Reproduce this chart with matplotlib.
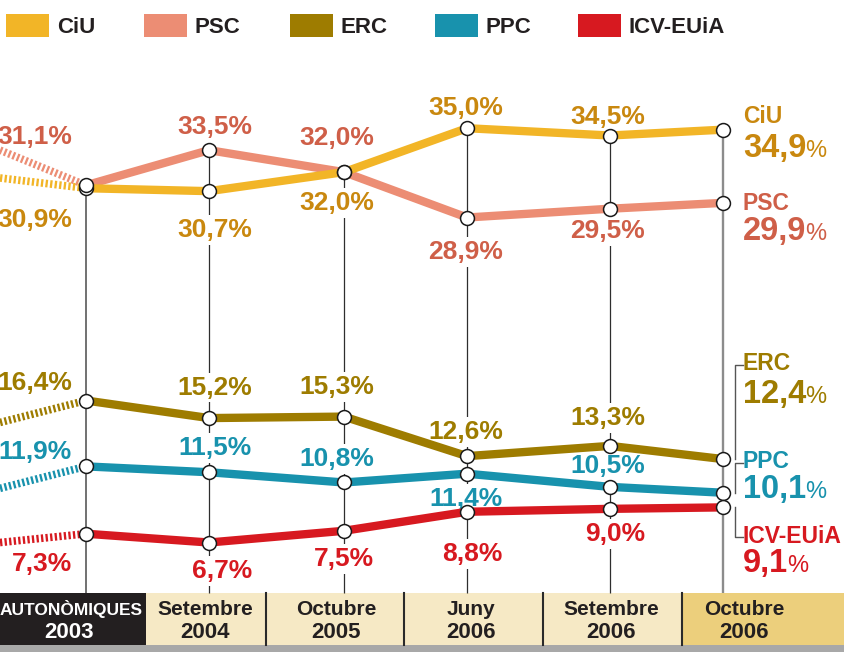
import matplotlib
matplotlib.use('Agg')
import matplotlib.pyplot as plt
from matplotlib.patches import Rectangle

# ---------------- data ----------------
periods_line1 = ['AUTONÒMIQUES', 'Setembre', 'Octubre', 'Juny', 'Setembre', 'Octubre']
periods_line2 = ['2003', '2004', '2005', '2006', '2006', '2006']
parties = ['CiU', 'PSC', 'ERC', 'PPC', 'ICV-EUiA']
ciu = [30.9, 30.7, 32.0, 35.0, 34.5, 34.9]
psc = [31.1, 33.5, 32.0, 28.9, 29.5, 29.9]
erc = [16.4, 15.2, 15.3, 12.6, 13.3, 12.4]
ppc = [11.9, 11.5, 10.8, 11.4, 10.5, 10.1]
icv = [7.3, 6.7, 7.5, 8.8, 9.0, 9.1]
# dotted trend stubs: value where they enter at the left border
stub_start = [31.6, 33.5, 14.9, 10.4, 6.7]

series = [ciu, psc, erc, ppc, icv]

# ---------------- styling / layout ----------------
W, H = 845, 652
line_colors = ['#F2B527', '#EC8D74', '#9E7C00', '#1892AD', '#D71920']
text_colors = ['#C9880F', '#CF5F48', '#9E7C00', '#1892AD', '#D71920']
x_pos = [86, 209, 344, 467, 610, 723]
ZERO_PX, PX_PER_PCT = 640.6, 14.64   # vertical scale of the chart


def pxv(ypix):
    return (ZERO_PX - ypix) / PX_PER_PCT


col_dx = [-14, 43, 30, 36, 35]
label_dy = [
    [-29, -36, -28, 23, 21],
    [51, 26, 37, -32, -20],
    [20, 33, 32, 27, 30],
    [17, 27, 26, -23, 23],
    [-28, -26, -26, -40, -23],
]
NUMFONT = ['Liberation Sans', 'DejaVu Sans']


def fmt(v):
    return f"{v:.1f}".replace('.', ',')


fig = plt.figure(figsize=(W / 100, H / 100), dpi=100)
ax = fig.add_axes([0, 0, 1, 1])
ax.set_xlim(0, W)
ax.set_ylim(pxv(H), pxv(0))
ax.axis('off')

lay = fig.add_axes([0, 0, 1, 1], zorder=-1)
lay.set_xlim(0, W)
lay.set_ylim(H, 0)
lay.axis('off')

# vertical guide lines
box_top = 593
for i, x in enumerate(x_pos):
    top = max(s[i] for s in series)
    if i == 0:
        c, lw = '#4a4a4a', 1.1
    elif i == len(x_pos) - 1:
        c, lw = '#8c8c8c', 1.7
    else:
        c, lw = '#2e2e2e', 0.9
    ax.plot([x, x], [pxv(box_top), top], color=c, lw=lw, zorder=1,
            solid_capstyle='butt')

# series lines (draw order so CiU over PSC, ICV over PPC)
for k in [1, 0, 2, 3, 4]:
    vals = series[k]
    ax.plot(x_pos, vals, color=line_colors[k], lw=6, zorder=3,
            solid_capstyle='butt', solid_joinstyle='round')
    ax.plot([0, x_pos[0]], [stub_start[k], vals[0]], color=line_colors[k],
            lw=5.5, linestyle=(0, (0.3, 0.3)), dash_capstyle='butt', zorder=3)

for k in range(5):
    ax.plot(x_pos, series[k], 'o', ms=10, mfc='white', mec='#1a1a1a',
            mew=1.1, zorder=5)

# value labels
for k in range(5):
    for i in range(5):
        ax.annotate(fmt(series[k][i]) + '%', xy=(x_pos[i], series[k][i]),
                    xytext=(col_dx[i], label_dy[k][i] - 9.5),
                    textcoords='offset pixels', ha='right', va='baseline',
                    fontsize=19, fontweight='bold', family=NUMFONT,
                    color=text_colors[k], zorder=2,
                    bbox=dict(facecolor='white', edgecolor='none', pad=2))

# brackets on the right
br_x0, br_x1 = 735, 743
ax.plot([br_x0, br_x0, br_x1], [erc[-1], pxv(365), pxv(365)], color='#555555',
        lw=1, zorder=2)
ax.plot([br_x0, br_x0, br_x1], [ppc[-1], pxv(463), pxv(463)], color='#555555',
        lw=1, zorder=2)
ax.plot([br_x0, br_x0, br_x1], [icv[-1], pxv(537), pxv(537)], color='#555555',
        lw=1, zorder=2)

# right-hand final labels
name_base = [123, 210, 370, 468, 543]
value_base = [157, 240, 403, 498, 572]
fig.canvas.draw()
rend = fig.canvas.get_renderer()
for k in range(5):
    lay.text(743, name_base[k], parties[k], ha='left', va='baseline',
             fontsize=16.5, fontweight='bold', family=NUMFONT,
             color=text_colors[k])
    t = lay.text(743, value_base[k], fmt(series[k][-1]), ha='left',
                 va='baseline', fontsize=23.5, fontweight='bold',
                 family=NUMFONT, color=text_colors[k])
    bb = t.get_window_extent(renderer=rend)
    xe = lay.transData.inverted().transform((bb.x1, bb.y0))[0]
    lay.text(xe - 1.5, value_base[k], '%', ha='left', va='baseline',
             fontsize=17, fontweight='normal', family=NUMFONT,
             color=text_colors[k])

# legend
leg_x = [6, 144, 290, 435, 578]
for k in range(5):
    lay.add_patch(Rectangle((leg_x[k], 14), 43, 23, facecolor=line_colors[k],
                            edgecolor='none'))
    lay.text(leg_x[k] + 51, 33, parties[k], ha='left', va='baseline',
             fontsize=16, fontweight='bold', family=NUMFONT, color='#231F20')

# bottom period boxes
edges = [0, 146, 266, 404, 543, 682, W]
box_colors = ['#231F20', '#F6E9C5', '#F6E9C5', '#F6E9C5', '#F6E9C5', '#ECCF7C']
for i in range(6):
    lay.add_patch(Rectangle((edges[i], box_top), edges[i + 1] - edges[i],
                            645 - box_top, facecolor=box_colors[i],
                            edgecolor='none'))
for e in edges[2:6]:
    lay.plot([e, e], [box_top, 645], color='#2a2a2a', lw=1.5)
lay.add_patch(Rectangle((0, 645), W, H - 645, facecolor='#A8A8A8',
                        edgecolor='none'))
box_lbl_x = [69, 205, 336, 471, 611, 744]
for i in range(6):
    c = 'white' if i == 0 else '#231F20'
    if i == 0:
        lay.text(143, 615, periods_line1[i], ha='right', va='baseline',
                 fontsize=12.5, fontweight='bold', family=NUMFONT, color=c)
    else:
        lay.text(box_lbl_x[i], 615, periods_line1[i], ha='center',
                 va='baseline', fontsize=15, fontweight='bold',
                 family=NUMFONT, color=c)
    lay.text(box_lbl_x[i], 638, periods_line2[i], ha='center', va='baseline',
             fontsize=16, fontweight='bold', family=NUMFONT, color=c)

fig.savefig('out.png', dpi=100)
